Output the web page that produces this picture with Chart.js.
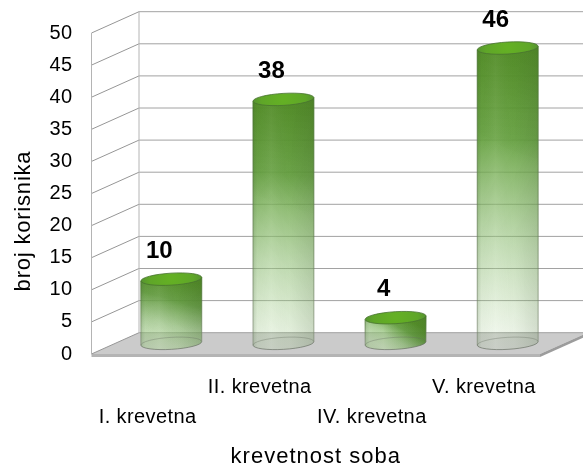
<!DOCTYPE html>
<html lang="hr">
<head>
    <meta charset="UTF-8">
    <title>krevetnost soba</title>
    <script src="https://cdn.jsdelivr.net/npm/chart.js@4/dist/chart.umd.min.js"></script>
    <style>
        html, body { margin: 0; padding: 0; background: #fff; }
        canvas { display: block; }
    </style>
</head>
<body>
    <canvas id="myChart" width="583" height="468"></canvas>

    <script>
        const categories = ['I. krevetna', 'II. krevetna', 'IV. krevetna', 'V. krevetna'];
        const korisnici = [10, 38, 4, 46];
        const xTitle = 'krevetnost soba';
        const yTitle = 'broj korisnika';

        const FONT = '"Liberation Sans", Arial, sans-serif';
        const depthX = 47.5;   // how far the back wall sits from the front plane
        const depthY = -21.3;
        const tilt = -0.06;    // ellipses lean a bit in the picture

        function spacedText(ctx, text, x, y, font, spacing, angle) {
            ctx.save();
            ctx.translate(x, y);
            ctx.rotate(angle || 0);
            ctx.font = font;
            ctx.letterSpacing = spacing;
            ctx.fillStyle = '#000';
            ctx.textAlign = 'center';
            ctx.textBaseline = 'middle';
            ctx.fillText(text, 0, 0);
            ctx.restore();
        }

        function drawWalls(chart) {
            const ctx = chart.ctx;
            const area = chart.chartArea;
            const yAxis = chart.scales.y;
            const y0 = yAxis.getPixelForValue(0);
            const yTop = yAxis.getPixelForValue(50);
            const backX = area.left + depthX;

            ctx.save();
            // floor
            ctx.fillStyle = '#cbcbcb';
            ctx.beginPath();
            ctx.moveTo(area.left, y0);
            ctx.lineTo(backX, y0 + depthY);
            ctx.lineTo(area.right + depthX, y0 + depthY);
            ctx.lineTo(area.right, y0);
            ctx.closePath();
            ctx.fill();
            ctx.fillStyle = '#b4b4b4';
            ctx.fillRect(area.left, y0, area.right - area.left, 3);
            ctx.fillStyle = '#9c9c9c';
            ctx.beginPath();
            ctx.moveTo(area.right, y0);
            ctx.lineTo(area.right + depthX, y0 + depthY);
            ctx.lineTo(area.right + depthX, y0 + depthY + 3);
            ctx.lineTo(area.right, y0 + 3);
            ctx.closePath();
            ctx.fill();

            // grid on the side and back walls
            ctx.lineWidth = 1;
            yAxis.ticks.forEach(function (tick) {
                const y = yAxis.getPixelForValue(tick.value);
                ctx.strokeStyle = '#969696';
                ctx.beginPath();
                ctx.moveTo(area.left, y);
                ctx.lineTo(backX, y + depthY);
                ctx.stroke();
                ctx.strokeStyle = '#a2a2a2';
                ctx.beginPath();
                ctx.moveTo(backX, y + depthY);
                ctx.lineTo(area.right + depthX, y + depthY);
                ctx.stroke();
            });

            ctx.strokeStyle = '#b4b4b4';
            ctx.beginPath();
            ctx.moveTo(area.left, yTop);
            ctx.lineTo(area.left, y0);
            ctx.moveTo(backX, yTop + depthY);
            ctx.lineTo(backX, y0 + depthY);
            ctx.stroke();
            ctx.restore();
        }

        function drawCylinder(ctx, bar, value) {
            const rx = bar.width / 2;
            const ry = 6;
            const cx = bar.x + depthX / 2;
            const top = bar.y + depthY / 2;
            const bottom = bar.base + depthY / 2;
            const lean = rx * Math.sin(-tilt);
            const h = bottom - top;
            const fade = 0.55 - 0.45 * Math.min(h / 300, 1);

            function body() {
                ctx.beginPath();
                ctx.moveTo(cx - rx, top + lean);
                ctx.lineTo(cx + rx, top - lean);
                ctx.lineTo(cx + rx, bottom - lean);
                ctx.ellipse(cx, bottom, rx, ry, tilt, 0, Math.PI);
                ctx.closePath();
            }

            ctx.save();
            // main colour, dark at the top and fading out towards the floor
            const main = ctx.createLinearGradient(cx + rx * 0.3, top, cx - rx * 0.3, bottom + ry);
            main.addColorStop(0, 'rgba(88,154,36,0.97)');
            main.addColorStop(0.3, 'rgba(100,162,60,0.92)');
            main.addColorStop(0.65, 'rgba(140,190,112,' + (0.48 + fade * 0.4) + ')');
            main.addColorStop(1, 'rgba(165,208,140,' + fade + ')');
            body();
            ctx.fillStyle = main;
            ctx.fill();

            // side shading
            const side = ctx.createLinearGradient(cx - rx, 0, cx + rx, 0);
            side.addColorStop(0, 'rgba(50,80,40,0.18)');
            side.addColorStop(0.07, 'rgba(50,80,40,0.03)');
            side.addColorStop(0.3, 'rgba(255,255,255,0.06)');
            side.addColorStop(0.6, 'rgba(50,80,40,0.02)');
            side.addColorStop(1, 'rgba(50,70,40,0.14)');
            body();
            ctx.fillStyle = side;
            ctx.fill();

            // darker corner at the upper right
            const corner = ctx.createLinearGradient(cx + rx, top, cx - rx * 0.1, top + Math.min(h, 110));
            corner.addColorStop(0, 'rgba(40,70,30,0.2)');
            corner.addColorStop(1, 'rgba(40,70,30,0)');
            body();
            ctx.fillStyle = corner;
            ctx.fill();

            // edges
            const edge = ctx.createLinearGradient(0, top, 0, bottom);
            edge.addColorStop(0, 'rgba(70,115,45,0.85)');
            edge.addColorStop(1, 'rgba(120,132,110,0.65)');
            ctx.strokeStyle = edge;
            ctx.lineWidth = 1;
            ctx.beginPath();
            ctx.moveTo(cx - rx, top + lean);
            ctx.lineTo(cx - rx, bottom + lean);
            ctx.moveTo(cx + rx, top - lean);
            ctx.lineTo(cx + rx, bottom - lean);
            ctx.stroke();

            // floor ellipse seen through the glass
            ctx.strokeStyle = 'rgba(100,108,95,0.65)';
            ctx.beginPath();
            ctx.ellipse(cx, bottom, rx, ry, tilt, 0, Math.PI);
            ctx.stroke();
            ctx.strokeStyle = 'rgba(100,108,95,0.35)';
            ctx.beginPath();
            ctx.ellipse(cx, bottom, rx, ry, tilt, Math.PI, Math.PI * 2);
            ctx.stroke();

            // lid
            const lid = ctx.createRadialGradient(cx, top - 1, 2, cx, top, rx);
            lid.addColorStop(0, '#64b024');
            lid.addColorStop(0.7, '#5fa628');
            lid.addColorStop(1, '#569430');
            ctx.beginPath();
            ctx.ellipse(cx, top, rx, ry, tilt, 0, Math.PI * 2);
            ctx.fillStyle = lid;
            ctx.fill();
            ctx.strokeStyle = 'rgba(72,115,48,0.8)';
            ctx.stroke();
            ctx.restore();

            // value above the lid
            spacedText(ctx, String(value), cx - 12, top - 28, 'bold 24px ' + FONT, '0px');
        }

        const cylinders = {
            id: 'cylinders',
            beforeDraw(chart) {
                chart.ctx.letterSpacing = '0.4px';
            },
            beforeDatasetsDraw(chart) {
                drawWalls(chart);
            },
            afterDatasetsDraw(chart) {
                const meta = chart.getDatasetMeta(0);
                meta.data.forEach(function (bar, i) {
                    drawCylinder(chart.ctx, bar, korisnici[i]);
                });
            },
            afterDraw(chart) {
                const ctx = chart.ctx;
                const area = chart.chartArea;
                ctx.letterSpacing = '0px';
                spacedText(ctx, xTitle, (area.left + area.right) / 2, 457, '22px ' + FONT, '1px');
                spacedText(ctx, yTitle, 24, 221, '22px ' + FONT, '0.8px', -Math.PI / 2);
            }
        };

        const myChart = new Chart(document.getElementById('myChart').getContext('2d'), {
            type: 'bar',
            data: {
                labels: categories,
                datasets: [{
                    label: 'broj korisnika',
                    data: korisnici,
                    backgroundColor: 'rgba(0,0,0,0)',
                    barPercentage: 1,
                    categoryPercentage: 0.543
                }]
            },
            plugins: [cylinders],
            options: {
                responsive: false,
                maintainAspectRatio: false,
                animation: false,
                devicePixelRatio: 1,
                layout: { padding: { left: 0, right: 43, top: 33, bottom: 0 } },
                plugins: {
                    legend: { display: false },
                    tooltip: { enabled: false }
                },
                scales: {
                    x: {
                        afterFit(scale) { scale.height = 114; },
                        grid: { display: false, drawTicks: false },
                        border: { display: false },
                        ticks: {
                            color: '#000',
                            font: { family: FONT, size: 20, lineHeight: 1.5 },
                            padding: 18,
                            maxRotation: 0,
                            autoSkip: false,
                            // labels alternate between a lower and an upper row
                            callback(value, i) {
                                return i % 2 === 0 ? ['', categories[i]] : [categories[i], ''];
                            }
                        }
                    },
                    y: {
                        min: 0,
                        max: 50,
                        afterFit(scale) { scale.width = 91.5; },
                        grid: { display: false, drawTicks: false },
                        border: { display: false },
                        ticks: {
                            color: '#000',
                            stepSize: 5,
                            font: { family: FONT, size: 20 },
                            padding: 19
                        }
                    }
                }
            }
        });
    </script>
</body>
</html>
